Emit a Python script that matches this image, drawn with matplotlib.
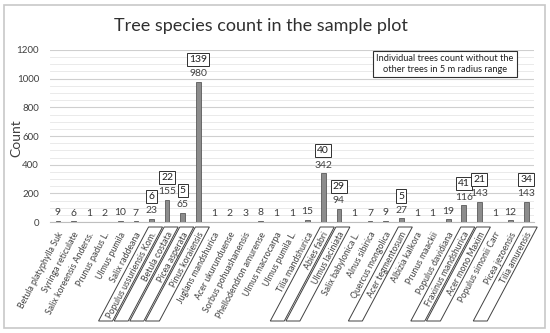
import numpy as np
import matplotlib
matplotlib.use("Agg")
import matplotlib.pyplot as plt
from matplotlib.patches import Polygon, Rectangle
from matplotlib.transforms import offset_copy

plt.rcParams['font.family'] = ['Lato', 'DejaVu Sans']

species = ['Betula platyphylla Suk', 'Syringa reticulate', 'Salix koreensis Anderss.',
           'Prunus padus L.', 'Ulmus pumila', 'Salix raddeana', 'Populus ussuriensis Kom.',
           'Betula costata', 'Picea asperata', 'Pinus koraiensis', 'Juglans mandshurica',
           'Acer ukurunduense', 'Sorbus pohuashanensis', 'Phellodendron amurense',
           'Ulmus macrocarpa', 'Ulmus pumila L.', 'Tilia mandshurica', 'Abies fabri',
           'Ulmus laciniata', 'Salix babylonica L.', 'Alnus sibirica', 'Quercus mongolica',
           'Acer tegmentosum', 'Albizia kalkora', 'Prunus maackii', 'Populus davidiana',
           'Fraxinus mandshurica', 'Acer mono Maxim', 'Populus simonii Carr',
           'Picea jezoensis', 'Tilia amurensis']
counts = [9, 6, 1, 2, 10, 7, 23, 155, 65, 980, 1, 2, 3, 8, 1, 1, 15, 342, 94, 1, 7, 9,
          27, 1, 1, 19, 116, 143, 1, 12, 143]

# species with isolated trees (no other tree within 5 m)
isolated_species = ['Populus ussuriensis Kom.', 'Betula costata', 'Picea asperata',
                    'Pinus koraiensis', 'Abies fabri', 'Ulmus laciniata', 'Acer tegmentosum',
                    'Fraxinus mandshurica', 'Acer mono Maxim', 'Tilia amurensis']
isolated_counts = [6, 22, 5, 139, 40, 29, 5, 41, 21, 34]

ANGLE = 62

fig = plt.figure(figsize=(5.5, 3.33), dpi=100)
ax = fig.add_axes([0.091, 0.333, 0.88, 0.517])

x = np.arange(len(species))
ax.bar(x, counts, width=0.3, color='#8c8c8c', edgecolor='#5a5a5a', linewidth=0.6, zorder=3)

ax.set_xlim(-0.5, len(species) - 0.5)
ax.set_ylim(0, 1200)
ax.set_yticks(np.arange(0, 1201, 200))
ax.set_yticks(np.arange(0, 1201, 50), minor=True)
ax.grid(axis='y', which='major', color='#cfcfcf', linewidth=0.8, zorder=0)
ax.grid(axis='y', which='minor', color='#e6e6e6', linewidth=0.6, zorder=0)
for s in ['top', 'right', 'left']:
    ax.spines[s].set_visible(False)
ax.spines['bottom'].set_color('#bfbfbf')
ax.tick_params(axis='both', which='both', length=0, labelsize=7, colors='#404040')
ax.tick_params(axis='y', pad=8)
ax.set_ylabel('Count', fontsize=10, color='#404040')
ax.yaxis.set_label_coords(-0.058, 0.49)

# category labels, drawn as rotated text under each bar
ax.set_xticks(x)
ax.set_xticklabels([])
lbl_tr = offset_copy(ax.get_xaxis_transform(), fig=fig, x=2.2, y=-7.5, units='points')
for i, name in enumerate(species):
    ax.text(i, 0, name, transform=lbl_tr, rotation=ANGLE, rotation_mode='anchor',
            ha='right', va='center', fontsize=6.3, color='#404040', clip_on=False)

for i, v in enumerate(counts):
    ax.annotate(str(v), (i, v), xytext=(0, 2.5), textcoords='offset points',
                ha='center', va='bottom', fontsize=7.5, color='#404040')

for name, n in zip(isolated_species, isolated_counts):
    i = species.index(name)
    ax.annotate(str(n), (i, counts[i]), xytext=(0, 16), textcoords='offset points',
                ha='center', va='center', fontsize=7.5, color='#202020',
                bbox=dict(boxstyle='square,pad=0.2', fc='white', ec='#303030', lw=0.7))

# slanted frames around highlighted species labels
inv = fig.transFigure.inverted()
H = 333
top_y, bot_y = H - 227, H - 321
dx = (top_y - bot_y) / np.tan(np.radians(ANGLE))
for name in isolated_species:
    i = species.index(name)
    px = ax.transData.transform((i, 0))[0]
    pts = [(px - 3, top_y), (px + 11, top_y), (px + 11 - dx, bot_y), (px - 3 - dx, bot_y)]
    poly = Polygon(inv.transform(pts), closed=True, fill=False, ec='#404040', lw=0.7,
                   transform=fig.transFigure)
    fig.patches.append(poly)

fig.text(261 / 550, 0.922, 'Tree species count in the sample plot', ha='center', va='center',
         fontsize=13, color='#303030')

fig.text(445 / 550, 1 - 64 / 333, 'Individual trees count without the\nother trees in 5 m radius range',
         ha='center', va='center', fontsize=6.7, color='#202020', linespacing=1.3,
         bbox=dict(boxstyle='square,pad=0.35', fc='white', ec='#303030', lw=0.8))

fig.patches.append(Rectangle((0.008, 0.014), 0.983, 0.972, transform=fig.transFigure,
                             fill=False, ec='#c8c8c8', lw=1.2))

fig.savefig('out.png', dpi=100)
